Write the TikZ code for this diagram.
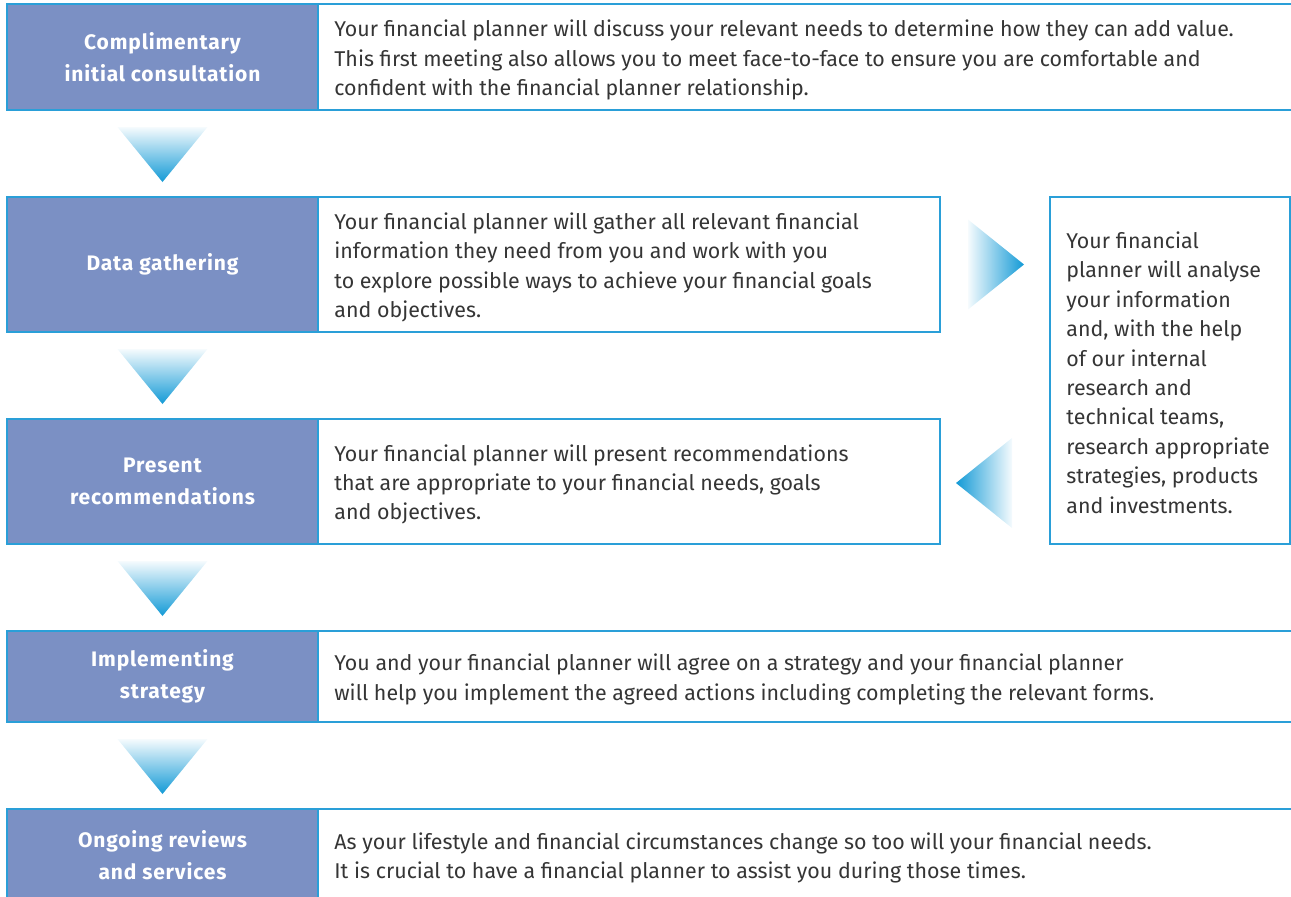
\documentclass[tikz,border=0pt]{standalone}
\usepackage{fontspec}
\setmainfont{Fira Sans}
\usetikzlibrary{positioning, calc}

\definecolor{stepfill}{HTML}{7B90C4}
\definecolor{lineblue}{HTML}{2A9FD8}
\definecolor{arrowblue}{HTML}{139AD6}
\definecolor{bodygray}{HTML}{353535}

\begin{document}
\begin{tikzpicture}[
    title/.style={fill=stepfill, draw=lineblue, line width=0.6pt, outer sep=0pt, inner sep=0pt,
        text=white, font=\fontsize{10.5}{16}\selectfont\bfseries\addfontfeatures{LetterSpace=4},
        align=center, minimum width=155.5pt},
    box/.style={draw=lineblue, line width=0.6pt, outer sep=0pt, inner sep=0pt},
    desc/.style={text=bodygray, font=\fontsize{10.7}{14.7}\selectfont, align=left, inner sep=0pt},
    downarrow/.pic={\shade[top color=arrowblue!4, bottom color=arrowblue]
        (-22.5pt,0) -- (22.5pt,0) -- (0,-27.5pt) -- cycle;},
    rightarrow/.pic={\shade[left color=arrowblue!4, right color=arrowblue]
        (0,22.5pt) -- (28pt,0) -- (0,-22.5pt) -- cycle;},
    leftarrow/.pic={\shade[left color=arrowblue, right color=arrowblue!4]
        (0,0) -- (28pt,22.5pt) -- (28pt,-22.5pt) -- cycle;},
]
\useasboundingbox (0,0) rectangle (645.5pt,-448pt);

% Step 1
\node[title, minimum height=53pt, anchor=north west] (t1) at (3.5pt,-2pt) {Complimentary\\initial consultation};
\node[box, minimum height=53pt, minimum width=487.5pt, right=0pt of t1] (b1) {};
\node[desc, right=8pt of b1.west, yshift=-1.5pt] (d1) {Your financial planner will discuss your relevant needs to determine how they can add value.\\
This first meeting also allows you to meet face-to-face to ensure you are comfortable and\\
confident with the financial planner relationship.};

% Step 2
\node[title, minimum height=67.5pt, below=43.5pt of t1] (t2) {Data gathering};
\node[box, minimum height=67.5pt, minimum width=311pt, right=0pt of t2] (b2) {};
\node[desc, right=8pt of b2.west, yshift=-1.5pt] (d2) {Your financial planner will gather all relevant financial\\
information they need from you and work with you\\
to explore possible ways to achieve your financial goals\\
and objectives.};

% Step 3
\node[title, minimum height=62.5pt, below=43.5pt of t2] (t3) {Present\\recommendations};
\node[box, minimum height=62.5pt, minimum width=311pt, right=0pt of t3] (b3) {};
\node[desc, right=8pt of b3.west, yshift=-1.5pt] (d3) {Your financial planner will present recommendations\\
that are appropriate to your financial needs, goals\\
and objectives.};

% Step 4
\node[title, minimum height=45.5pt, below=43.5pt of t3] (t4) {Implementing\\strategy};
\node[box, minimum height=45.5pt, minimum width=487.5pt, right=0pt of t4] (b4) {};
\node[desc, right=8pt of b4.west, yshift=-1.5pt] (d4) {You and your financial planner will agree on a strategy and your financial planner\\
will help you implement the agreed actions including completing the relevant forms.};

% Step 5
\node[title, minimum height=46pt, below=43.5pt of t4] (t5) {Ongoing reviews\\and services};
\node[box, minimum height=46pt, minimum width=487.5pt, right=0pt of t5] (b5) {};
\node[desc, right=8pt of b5.west, yshift=-1.5pt] (d5) {As your lifestyle and financial circumstances change so too will your financial needs.\\
It is crucial to have a financial planner to assist you during those times.};

% Research side box
\node[box, minimum width=120pt, minimum height=173.5pt, anchor=north west] (r) at ([xshift=55pt]b2.north east) {};
\node[desc, right=8pt of r.west, yshift=-1pt] (dr) {Your financial\\planner will analyse\\your information\\and, with the help\\of our internal\\research and\\technical teams,\\research appropriate\\strategies, products\\and investments.};

% Arrows between the steps
\foreach \s in {t1, t2, t3, t4}
    \pic at ([yshift=-8.5pt]\s.south) {downarrow};
\pic at ([xshift=14pt]b2.east) {rightarrow};
\pic at ([xshift=8pt, yshift=-0.75pt]b3.east) {leftarrow};

\end{tikzpicture}
\end{document}
